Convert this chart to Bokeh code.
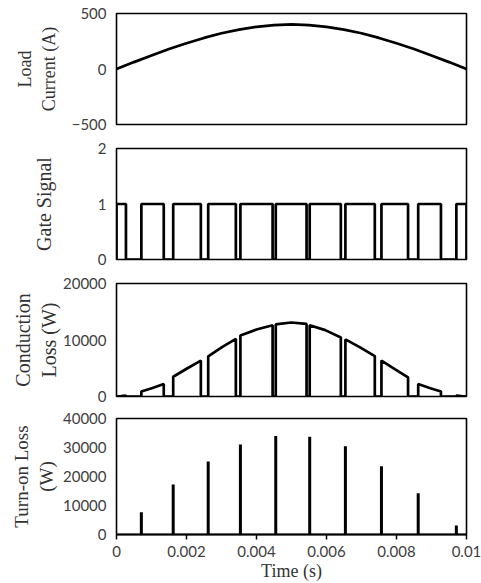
from bokeh.plotting import figure
from bokeh.layouts import column
from bokeh.models import Range1d, FixedTicker, CustomJSTickFormatter
from bokeh.embed import file_html
from bokeh.resources import INLINE

# Load current over one half cycle (s, A)
current_t = [0.0, 0.0005, 0.001, 0.0015, 0.002, 0.0025, 0.003, 0.0035, 0.004, 0.0045, 0.005,
             0.0055, 0.006, 0.0065, 0.007, 0.0075, 0.008, 0.0085, 0.009, 0.0095, 0.01]
current_a = [0, 62, 122, 180, 232, 280, 322, 355, 380, 396, 402,
             396, 380, 355, 322, 280, 232, 180, 122, 62, 0]

# Gate switching instants (s)
gate_rise = [0.0, 0.00071, 0.00162, 0.00262, 0.00354, 0.00455, 0.00552, 0.00654, 0.00757, 0.00862, 0.00971]
gate_fall = [0.00027, 0.00135, 0.00241, 0.00341, 0.00446, 0.00543, 0.00641, 0.00738, 0.00833, 0.00927, 0.01]

# Conduction loss during each on-interval: at turn-on, mid-interval, turn-off (W)
cond_start = [0, 890, 3500, 7100, 10800, 12750, 12600, 10100, 6350, 2200, 180]
cond_mid = [80, 1500, 4950, 8750, 11850, 13100, 11750, 8700, 4850, 1500, 80]
cond_end = [180, 2200, 6350, 10200, 12600, 12850, 10450, 7150, 3400, 890, 0]

# Turn-on loss pulses (s, W)
turnon_t = [0.00071, 0.00162, 0.00262, 0.00354, 0.00455, 0.00552, 0.00654, 0.00757, 0.00862, 0.00971]
turnon_w = [7700, 17200, 25200, 31000, 34000, 33700, 30400, 23500, 14200, 3100]

time_ticks = [0, 0.002, 0.004, 0.006, 0.008, 0.01]

INK = "black"
TEXT = "#333333"
TICK_FONT = "Lato"
LABEL_FONT = "Liberation Serif"

x_range = Range1d(0, 0.01)


def panel(height, top, bottom, y0, y1, yticks, label, label_size, label_standoff, with_time_axis=False):
    p = figure(width=481, height=height, x_range=x_range, y_range=Range1d(y0, y1),
               output_backend="svg", toolbar_location=None,
               min_border_left=116, min_border_right=15,
               min_border_top=top, min_border_bottom=bottom,
               x_axis_location="below" if with_time_axis else None,
               background_fill_color="white", border_fill_color="white")
    p.xgrid.grid_line_color = None
    p.ygrid.grid_line_color = None
    p.outline_line_color = INK
    p.outline_line_width = 1.6
    p.outline_line_alpha = 1.0

    ya = p.yaxis[0]
    ya.ticker = FixedTicker(ticks=yticks)
    ya.axis_line_color = None
    ya.major_tick_line_color = None
    ya.major_tick_in = 0
    ya.major_tick_out = 0
    ya.minor_tick_line_color = None
    ya.minor_tick_in = 0
    ya.minor_tick_out = 0
    ya.major_label_standoff = 10
    ya.major_label_text_font = TICK_FONT
    ya.major_label_text_font_size = "15px"
    ya.major_label_text_color = "#404040"
    ya.axis_label = label
    ya.axis_label_text_font = LABEL_FONT
    ya.axis_label_text_font_style = "normal"
    ya.axis_label_text_font_size = label_size
    ya.axis_label_text_color = TEXT
    ya.axis_label_standoff = label_standoff

    if with_time_axis:
        xa = p.xaxis[0]
        xa.ticker = FixedTicker(ticks=time_ticks)
        xa.formatter = CustomJSTickFormatter(
            code="return tick.toFixed(3).replace(/0+$/, '').replace(/\\.$/, '');")
        xa.axis_line_color = INK
        xa.axis_line_width = 2
        xa.major_tick_line_color = INK
        xa.major_tick_line_width = 1.5
        xa.major_tick_in = 0
        xa.major_tick_out = 5
        xa.minor_tick_line_color = None
        xa.major_label_standoff = 6
        xa.major_label_text_font = TICK_FONT
        xa.major_label_text_font_size = "15px"
        xa.major_label_text_color = "#404040"
        xa.axis_label = "Time (s)"
        xa.axis_label_text_font = LABEL_FONT
        xa.axis_label_text_font_style = "normal"
        xa.axis_label_text_font_size = "18px"
        xa.axis_label_text_color = TEXT
        xa.axis_label_standoff = 1
    return p


# Load current
p1 = panel(136, 13, 12, -500, 500, [-500, 0, 500], "Load\nCurrent (A)", "18px", 10)
p1.line(current_t, current_a, line_color=INK, line_width=2.7)

# Gate signal as a stepped trace
gx, gy = [], []
for r, f in zip(gate_rise, gate_fall):
    gx += [r, r, f, f]
    gy += [0, 1, 1, 0]
p2 = panel(135, 12, 12, 0, 2, [0, 1, 2], "Gate Signal", "20px", 40)
p2.line(gx, gy, line_color=INK, line_width=2.7)

# Conduction loss follows the current while the switch is on
cx, cy = [], []
for r, f, s, m, e in zip(gate_rise, gate_fall, cond_start, cond_mid, cond_end):
    cx += [r, r, (r + f) / 2, f, f]
    cy += [0, s, m, e, 0]
p3 = panel(137, 12, 12, 0, 20000, [0, 10000, 20000], "Conduction\nLoss (W)", "20px", 0)
p3.line(cx, cy, line_color=INK, line_width=2.7)

# Turn-on loss pulses
p4 = panel(175, 10, 49, 0, 40000, [0, 10000, 20000, 30000, 40000], "Turn-on Loss\n(W)", "19px", 3,
           with_time_axis=True)
p4.segment(x0=turnon_t, y0=[0] * len(turnon_t), x1=turnon_t, y1=turnon_w,
           line_color=INK, line_width=3)

layout = column(p1, p2, p3, p4)

with open("out.html", "w") as fh:
    fh.write(file_html(layout, INLINE))
